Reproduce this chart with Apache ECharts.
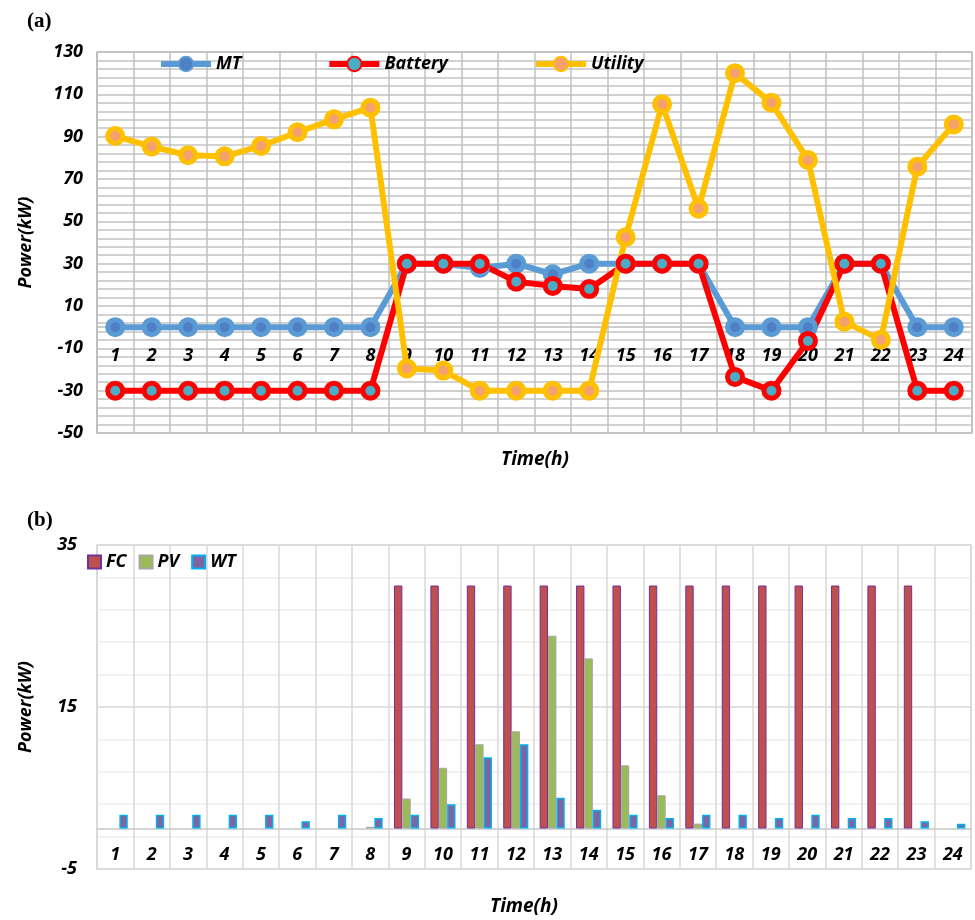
<!DOCTYPE html>
<html>
<head>
<meta charset="utf-8">
<script src="https://cdn.jsdelivr.net/npm/echarts@6/dist/echarts.min.js"></script>
<style>
  html, body { margin: 0; padding: 0; background: #fff; }
  #chart { width: 975px; height: 920px; }
</style>
</head>
<body>
<div id="chart"></div>
<script>
// hours on both x axes
const hours = ['1', '2', '3', '4', '5', '6', '7', '8', '9', '10', '11', '12',
  '13', '14', '15', '16', '17', '18', '19', '20', '21', '22', '23', '24']

// (a) dispatch, kW
const mt = [0, 0, 0, 0, 0, 0, 0, 0, 30, 30, 28, 30, 25, 30, 30, 30, 30, 0, 0, 0, 30, 30, 0, 0]
const battery = [-30, -30, -30, -30, -30, -30, -30, -30, 30, 30, 30, 21.5, 19.5, 18, 30, 30, 30, -23.5, -30, -6.5, 30, 30, -30, -30]
const utility = [90.3, 85.3, 81.2, 80.7, 85.6, 92.1, 98.2, 103.7, -19.5, -20.5, -30, -30, -30, -30, 42.5, 105.3, 56, 120, 106, 79, 2.6, -6, 75.8, 95.8]

// (b) renewables and fuel cell, kW
const fc = [0, 0, 0, 0, 0, 0, 0, 0, 30, 30, 30, 30, 30, 30, 30, 30, 30, 30, 30, 30, 30, 30, 30, 0]
const pv = [0, 0, 0, 0, 0, 0, 0, 0.2, 3.7, 7.5, 10.4, 12, 23.8, 21, 7.8, 4.1, 0.6, 0, 0, 0, 0, 0, 0, 0]
const wt = [1.7, 1.7, 1.7, 1.7, 1.7, 0.9, 1.7, 1.3, 1.7, 3, 8.8, 10.4, 3.8, 2.3, 1.7, 1.3, 1.7, 1.7, 1.3, 1.7, 1.3, 1.3, 0.9, 0.6]

const font = '"Open Sans", Lato, sans-serif'
const boldItalic = { fontFamily: font, fontWeight: 'bold', fontStyle: 'italic', color: '#000' }

// plot boxes, px
const top1 = 52
const h1 = 381
const top2 = 545
const h2 = 324

function lineSeries (name, data, color, inner) {
  return {
    name: name,
    type: 'line',
    xAxisIndex: 0,
    yAxisIndex: 0,
    data: data,
    symbol: 'circle',
    symbolSize: 15,
    lineStyle: { color: color, width: 6 },
    itemStyle: { color: inner, borderColor: color, borderWidth: 5 },
    emphasis: { disabled: true }
  }
}

function barSeries (name, data, color, border, bw) {
  return {
    name: name,
    type: 'bar',
    xAxisIndex: 1,
    yAxisIndex: 1,
    // excel leaves zero bars blank
    data: data.map(v => (v === 0 ? '-' : v)),
    barGap: 0,
    barCategoryGap: '31%',
    itemStyle: { color: color, borderColor: border, borderWidth: bw }
  }
}

// the category axis sits on y = 0, move it up from the grid bottom
function zeroOffset (min, max, height) {
  return -height * (0 - min) / (max - min)
}

const chart = echarts.init(document.getElementById('chart'))
chart.setOption({
  animation: false,
  title: [
    { text: '(a)', left: 22, top: 6, textStyle: { fontFamily: '"Liberation Serif", serif', fontWeight: 'bold', fontSize: 21, color: '#000' } },
    { text: '(b)', left: 22, top: 505, textStyle: { fontFamily: '"Liberation Serif", serif', fontWeight: 'bold', fontSize: 21, color: '#000' } },
    { text: 'Time(h)', left: 530, top: 445, textAlign: 'center', textStyle: Object.assign({ fontSize: 19 }, boldItalic) },
    { text: 'Time(h)', left: 519, top: 892, textAlign: 'center', textStyle: Object.assign({ fontSize: 19 }, boldItalic) }
  ],
  legend: [
    {
      data: ['MT', 'Battery', 'Utility'],
      left: 158,
      top: 55,
      padding: 0,
      itemWidth: 50,
      itemHeight: 18,
      itemGap: 85,
      lineStyle: { width: 6 },
      textStyle: Object.assign({ fontSize: 18 }, boldItalic)
    },
    {
      data: ['FC', 'PV', 'WT'],
      left: 87,
      top: 553,
      padding: 0,
      icon: 'rect',
      itemWidth: 13,
      itemHeight: 13,
      itemGap: 12,
      textStyle: Object.assign({ fontSize: 18 }, boldItalic)
    }
  ],
  grid: [
    { left: 97, top: top1, width: 875, height: h1, show: true, borderColor: '#bfbfbf', borderWidth: 1.5 },
    { left: 97, top: top2, width: 874, height: h2, show: true, borderColor: '#d9d9d9', borderWidth: 1.5 }
  ],
  xAxis: [
    {
      type: 'category',
      gridIndex: 0,
      data: hours,
      position: 'bottom',
      offset: zeroOffset(-50, 130, h1),
      axisLine: { onZero: false, lineStyle: { color: '#bfbfbf', width: 1.5 } },
      axisTick: { show: false },
      axisLabel: Object.assign({ fontSize: 18, margin: 20, interval: 0 }, boldItalic),
      splitLine: { show: true, interval: 0, lineStyle: { color: '#bfbfbf', width: 1.5 } }
    },
    {
      type: 'category',
      gridIndex: 1,
      data: hours,
      position: 'bottom',
      offset: zeroOffset(-5, 35, h2),
      axisLine: { onZero: false, lineStyle: { color: '#c8c8c8', width: 1.5 } },
      axisTick: { show: false },
      axisLabel: Object.assign({ fontSize: 18, margin: 17, interval: 0 }, boldItalic),
      splitLine: { show: true, interval: 0, lineStyle: { color: '#d9d9d9', width: 1.5 } }
    }
  ],
  yAxis: [
    {
      type: 'value',
      gridIndex: 0,
      min: -50,
      max: 130,
      interval: 20,
      name: 'Power(kW)',
      nameLocation: 'middle',
      nameGap: 62,
      nameTextStyle: Object.assign({ fontSize: 18 }, boldItalic),
      axisLine: { show: true, lineStyle: { color: '#bfbfbf', width: 1.5 } },
      axisTick: { show: false },
      axisLabel: Object.assign({ fontSize: 18, margin: 14 }, boldItalic),
      splitLine: { lineStyle: { color: '#bfbfbf', width: 1.5 } },
      minorTick: { show: false, splitNumber: 5 },
      minorSplitLine: { show: true, lineStyle: { color: '#c4c4c4', width: 1.5 } }
    },
    {
      type: 'value',
      gridIndex: 1,
      min: -5,
      max: 35,
      interval: 20,
      name: 'Power(kW)',
      nameLocation: 'middle',
      nameGap: 62,
      nameTextStyle: Object.assign({ fontSize: 18 }, boldItalic),
      axisLine: { show: true, lineStyle: { color: '#d9d9d9', width: 1.5 } },
      axisTick: { show: false },
      axisLabel: Object.assign({ fontSize: 18, margin: 20 }, boldItalic),
      splitLine: { lineStyle: { color: '#d9d9d9', width: 1.5 } },
      minorTick: { show: false, splitNumber: 5 },
      minorSplitLine: { show: true, lineStyle: { color: '#eeeeee', width: 1.5 } }
    }
  ],
  series: [
    lineSeries('MT', mt, '#5b9bd5', '#4f7fc4'),
    lineSeries('Battery', battery, '#ff0000', '#4bacc6'),
    lineSeries('Utility', utility, '#ffc000', '#f4a070'),
    barSeries('FC', fc, '#c0504d', '#7030a0', 1),
    barSeries('PV', pv, '#9bbb59', '#a5a5a5', 1),
    barSeries('WT', wt, '#8064a2', '#00b0f0', 1.5)
  ]
})
</script>
</body>
</html>
